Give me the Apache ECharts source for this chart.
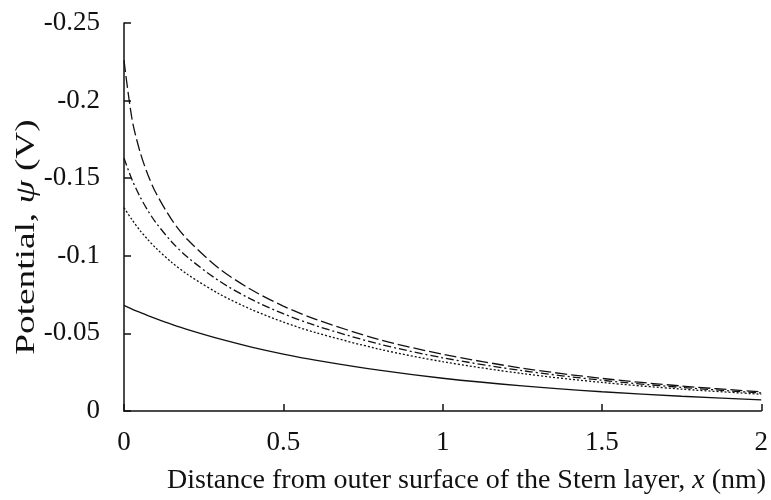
<!DOCTYPE html>
<html>
<head>
<meta charset="utf-8">
<script src="https://cdn.jsdelivr.net/npm/echarts@6/dist/echarts.min.js"></script>
<style>
  html, body { margin: 0; padding: 0; background: #fff; }
  #chart { width: 771px; height: 500px; }
</style>
</head>
<body>
<div id="chart"></div>
<script>
// distance from the Stern layer (nm)
var xs = [0, 0.025, 0.05, 0.075, 0.1, 0.15, 0.2, 0.3, 0.4, 0.5, 0.6, 0.8, 1.0, 1.25, 1.5, 1.75, 2.0];

// potential (V)
var solidLine   = [-0.068, -0.0657, -0.0636, -0.0615, -0.0595, -0.0558, -0.0524, -0.0464, -0.0412, -0.0367, -0.0328, -0.0263, -0.0211, -0.0162, -0.0124, -0.0095, -0.0072];
var dottedLine  = [-0.131, -0.1233, -0.1164, -0.1104, -0.1050, -0.0957, -0.0879, -0.0753, -0.0654, -0.0573, -0.0506, -0.0399, -0.0318, -0.0241, -0.0184, -0.0141, -0.0108];
var dashDotLine = [-0.163, -0.1491, -0.1382, -0.1291, -0.1214, -0.1089, -0.0990, -0.0836, -0.0719, -0.0627, -0.0551, -0.0432, -0.0343, -0.0260, -0.0198, -0.0152, -0.0116];
var dashLine    = [-0.226, -0.1883, -0.1672, -0.1522, -0.1406, -0.1232, -0.1103, -0.0916, -0.0781, -0.0676, -0.0592, -0.0461, -0.0366, -0.0276, -0.0210, -0.0161, -0.0123];

function pairs(ys) {
  return xs.map(function (x, i) { return [x, ys[i]]; });
}

function curve(ys, type) {
  return {
    type: 'line',
    data: pairs(ys),
    showSymbol: false,
    smooth: 0.3,
    lineStyle: { color: '#111', width: 1.3, type: type },
    silent: true
  };
}

var font = 'Liberation Serif';
var size = 27;
var chart = echarts.init(document.getElementById('chart'));
chart.setOption({
  animation: false,
  grid: { left: 124, right: 7, top: 23, bottom: 89 },
  xAxis: {
    type: 'value',
    min: 0, max: 2, interval: 0.5,
    name: 'Distance from outer surface of the Stern layer, {i|x} (nm)',
    nameLocation: 'middle',
    nameGap: 56,
    nameTextStyle: {
      fontFamily: font, fontSize: 28, color: '#111',
      padding: [0, 0, 0, 48],
      rich: { i: { fontFamily: font, fontSize: 28, fontStyle: 'italic', color: '#111' } }
    },
    axisLine: { lineStyle: { color: '#111', width: 1.5 } },
    axisTick: { inside: true, length: 7, lineStyle: { color: '#111', width: 1.5 } },
    axisLabel: { fontFamily: font, fontSize: size, color: '#111', margin: 18 },
    splitLine: { show: false }
  },
  yAxis: {
    type: 'value',
    min: -0.25, max: 0, interval: 0.05,
    inverse: true,
    axisLine: { lineStyle: { color: '#111', width: 1.5 } },
    axisTick: { inside: true, length: 7, lineStyle: { color: '#111', width: 1.5 } },
    axisLabel: { fontFamily: font, fontSize: size, color: '#111', margin: 24 },
    splitLine: { show: false }
  },
  // y title: drawn stretched along its length, like the source figure
  graphic: [{
    type: 'text',
    x: 27,
    y: 237,
    rotation: Math.PI / 2,
    scaleX: 1.38,
    silent: true,
    style: {
      text: 'Potential, {i|ψ} (V)',
      font: size + 'px "Liberation Serif"',
      fill: '#111',
      align: 'center',
      verticalAlign: 'middle',
      rich: { i: { fontFamily: font, fontSize: size, fontStyle: 'italic', fill: '#111' } }
    }
  }],
  series: [
    curve(solidLine, 'solid'),
    curve(dottedLine, [2, 2]),
    curve(dashDotLine, [8, 3, 2, 3]),
    curve(dashLine, [12, 4])
  ]
});
</script>
</body>
</html>
